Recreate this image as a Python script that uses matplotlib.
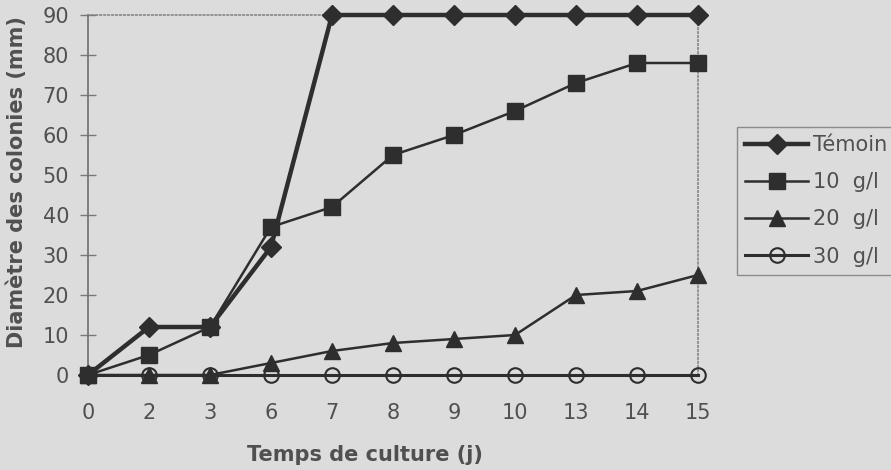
import numpy as np
import matplotlib.pyplot as plt

plt.rcParams['font.family'] = ['DejaVu Sans']

jours = ["0", "2", "3", "6", "7", "8", "9", "10", "13", "14", "15"]
temoin = [0, 12, 12, 32, 90, 90, 90, 90, 90, 90, 90]
c10 = [0, 5, 12, 37, 42, 55, 60, 66, 73, 78, 78]
c20 = [0, 0, 0, 3, 6, 8, 9, 10, 20, 21, 25]
c30 = [0, 0, 0, 0, 0, 0, 0, 0, 0, 0, 0]

bg = '#dcdcdc'
dark = '#2e2e2e'
txt = '#505050'

fig = plt.figure(figsize=(8.91, 4.70), dpi=100, facecolor=bg)
ax = fig.add_axes([88 / 891, 1 - 375 / 470, 610 / 891, 360 / 470])
ax.set_facecolor(bg)
x = np.arange(len(jours))

l30, = ax.plot(x, c30, color=dark, lw=2.2, marker='o', ms=10.5, mfc='none',
               mec=dark, mew=1.5, clip_on=False, zorder=3)
l20, = ax.plot(x, c20, color=dark, lw=1.8, marker='^', ms=12, clip_on=False, zorder=4)
l10, = ax.plot(x, c10, color=dark, lw=1.8, marker='s', ms=12, clip_on=False, zorder=5)
lt, = ax.plot(x, temoin, color=dark, lw=3.2, marker='D', ms=10, clip_on=False, zorder=6)

ax.set_xlim(0, 10)
ax.set_ylim(0, 90)
ax.set_xticks(x)
ax.set_xticklabels(jours)
ax.set_yticks(range(0, 91, 10))
ax.tick_params(axis='x', length=0, pad=20, labelsize=15, colors=txt)
ax.tick_params(axis='y', direction='inout', length=11, width=1, pad=8,
               labelsize=15, colors='#777777', labelcolor=txt)

ax.spines['left'].set_color('#777777')
ax.spines['left'].set_linewidth(1.3)
for s in ['top', 'right']:
    ax.spines[s].set_color('#808080')
    ax.spines[s].set_linestyle((0, (1, 1.6)))
    ax.spines[s].set_linewidth(1.1)
ax.spines['bottom'].set_visible(False)

ax.set_ylabel("Diamètre des colonies (mm)", fontsize=15, fontweight='bold',
              color=txt)
ax.yaxis.set_label_coords(-0.1, 0.536)
ax.set_xlabel("Temps de culture (j)", fontsize=15, fontweight='bold',
              color=txt)
ax.xaxis.set_label_coords(0.454, -0.195)

leg = fig.legend([lt, l10, l20, l30], ["Témoin", "10  g/l", "20  g/l", "30  g/l"],
                 loc='upper left', bbox_to_anchor=(737 / 891, 1 - 127 / 470),
                 frameon=True, fancybox=False, fontsize=15, handlelength=3.0,
                 handletextpad=0.25, borderpad=0.4, labelspacing=0.82,
                 borderaxespad=0)
leg.get_frame().set_facecolor(bg)
leg.get_frame().set_edgecolor('#777777')
leg.get_frame().set_linewidth(1)
for t in leg.get_texts():
    t.set_color(txt)

fig.savefig("out.png", dpi=100, facecolor=bg)
